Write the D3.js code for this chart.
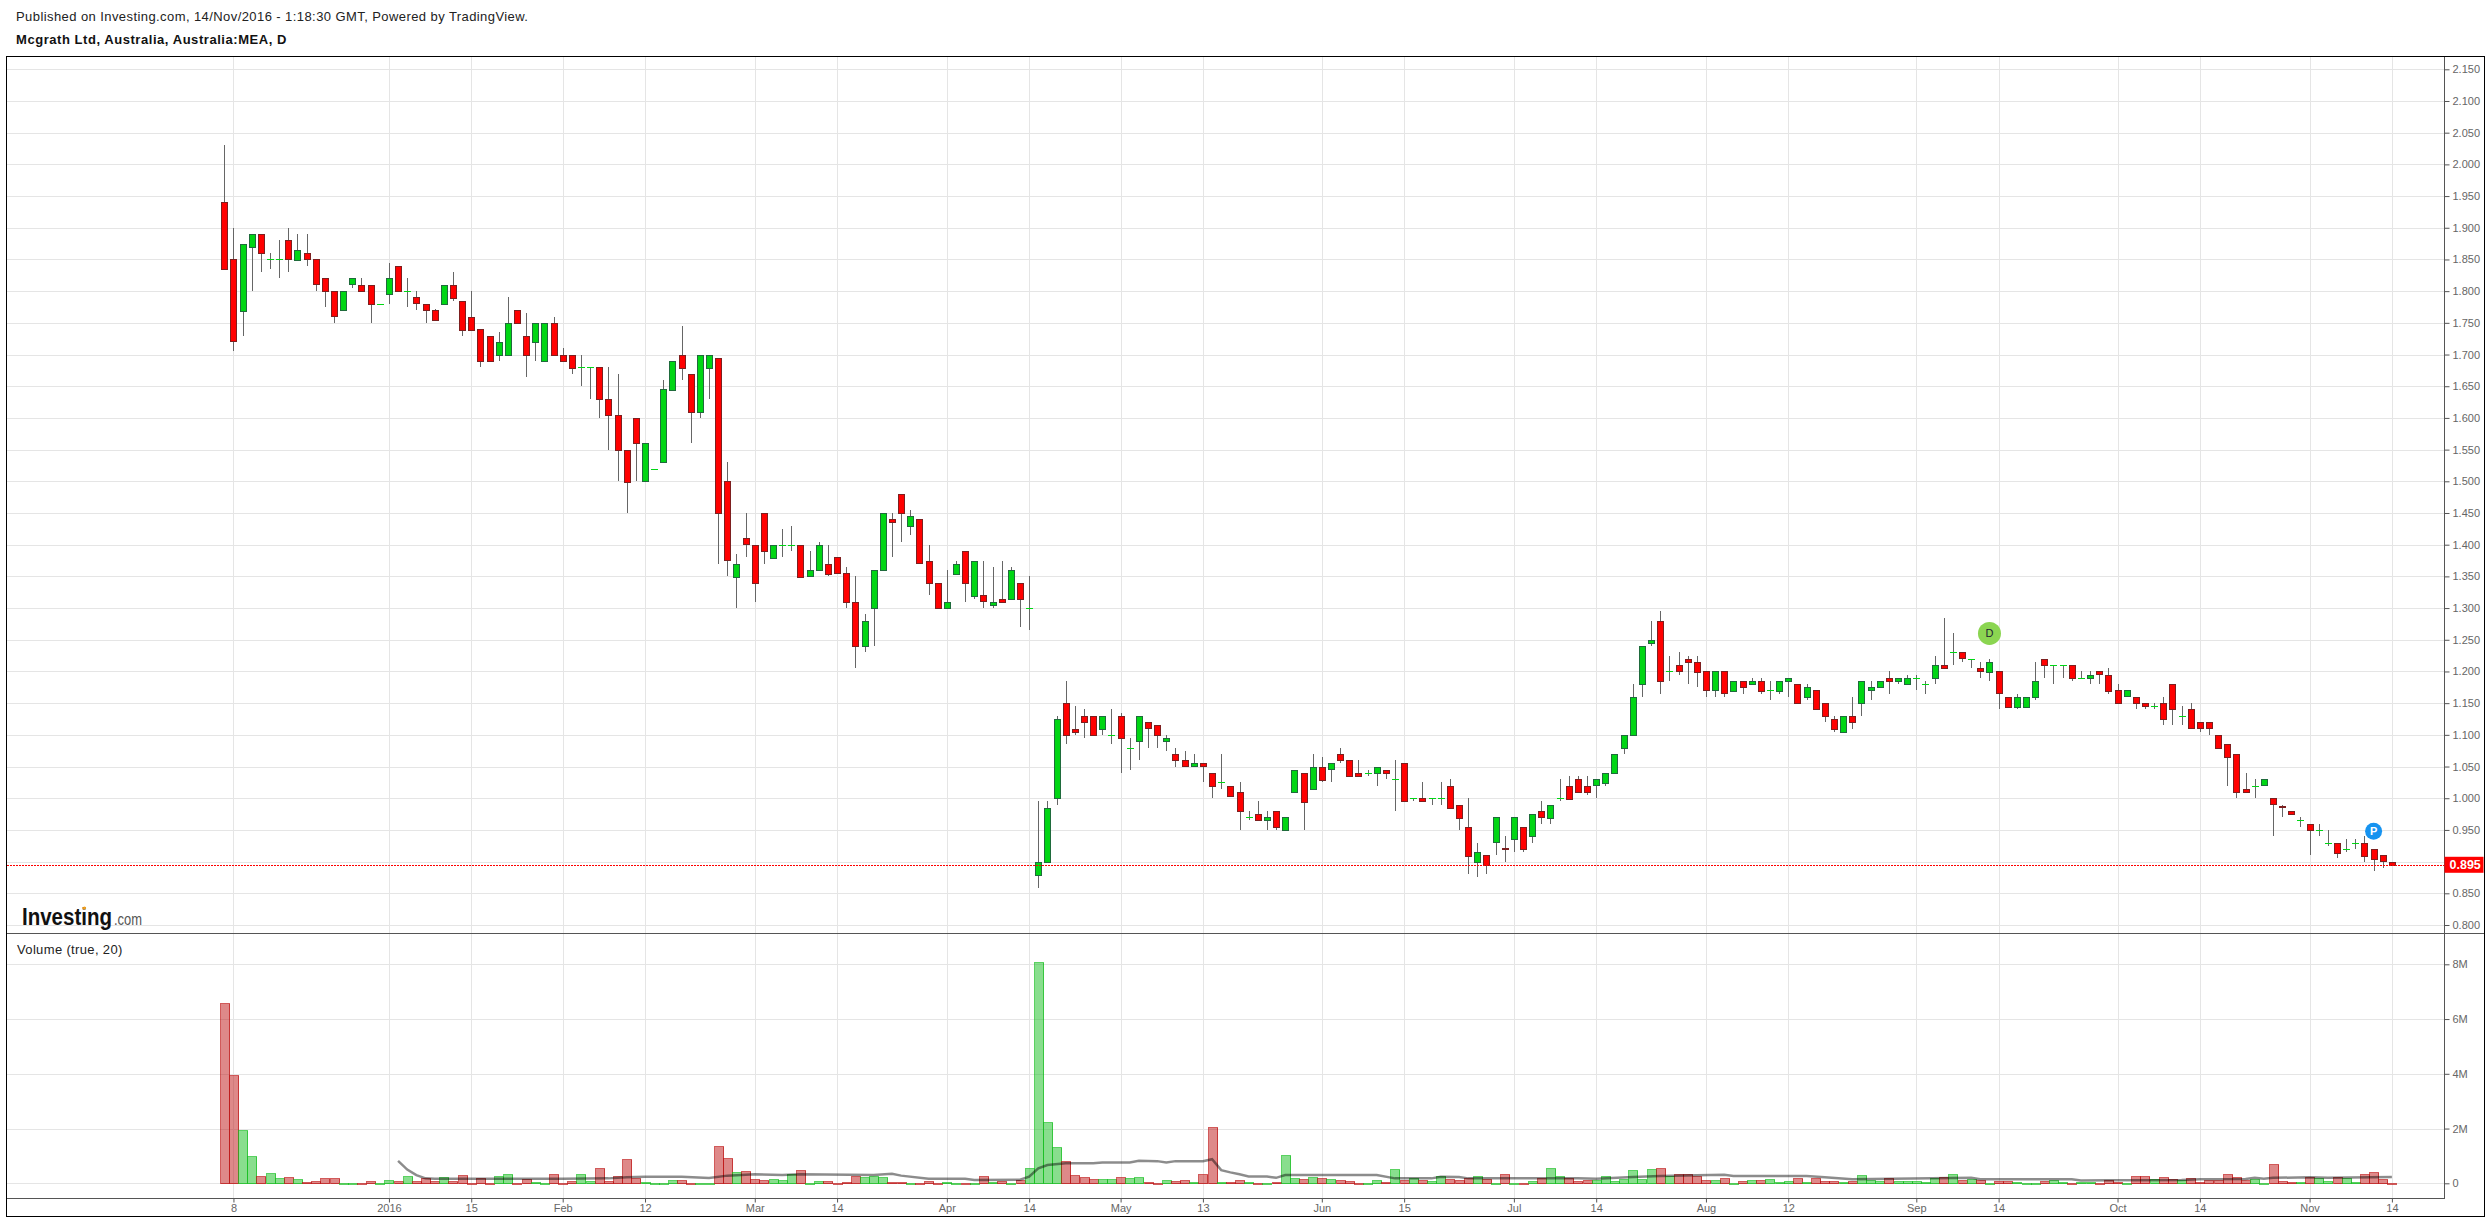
<!DOCTYPE html>
<html>
<head>
<meta charset="utf-8">
<title>Mcgrath Ltd</title>
<script src="https://cdn.jsdelivr.net/npm/d3@7"></script>
<style>
  html, body { margin: 0; padding: 0; background: #fff; }
  svg { display: block; font-family: "Liberation Sans", Arial, sans-serif; }
  .tick text { fill: #666; font-size: 11px; }
  .tick line, .domain { stroke: #555; }
</style>
</head>
<body>
<div id="chart"></div>
<script>
// daily candles, oldest first
const opens = [
  1.94,1.85,1.77,1.87,1.89,1.85,1.85,1.88,1.85,1.86,
  1.85,1.82,1.80,1.77,1.81,1.81,1.81,1.78,1.795,1.84,
  1.80,1.79,1.78,1.77,1.78,1.81,1.785,1.76,1.74,1.73,
  1.70,1.70,1.77,1.73,1.72,1.69,1.75,1.70,1.70,1.68,
  1.68,1.68,1.63,1.605,1.55,1.60,1.50,1.52,1.53,1.645,
  1.70,1.67,1.61,1.68,1.695,1.50,1.35,1.41,1.40,1.45,
  1.38,1.40,1.40,1.40,1.35,1.36,1.37,1.38,1.355,1.31,
  1.24,1.30,1.36,1.44,1.48,1.43,1.44,1.375,1.34,1.30,
  1.355,1.39,1.32,1.32,1.305,1.315,1.315,1.34,1.30,0.88,
  0.90,1.00,1.15,1.11,1.13,1.13,1.11,1.10,1.13,1.08,
  1.09,1.12,1.115,1.09,1.07,1.06,1.05,1.055,1.04,1.025,
  1.02,1.01,0.97,0.975,0.965,0.98,0.95,1.01,1.04,1.015,
  1.05,1.045,1.07,1.06,1.04,1.04,1.04,1.045,1.03,1.055,
  1.00,1.00,1.00,1.00,1.02,0.99,0.955,0.90,0.91,0.93,
  0.922,0.935,0.955,0.94,0.98,0.97,1.00,1.02,1.03,1.02,
  1.02,1.025,1.04,1.08,1.10,1.18,1.245,1.28,1.20,1.21,
  1.22,1.215,1.20,1.17,1.20,1.17,1.185,1.18,1.185,1.17,
  1.17,1.185,1.18,1.16,1.17,1.15,1.125,1.105,1.13,1.15,
  1.17,1.175,1.19,1.185,1.18,1.19,1.18,1.19,1.21,1.23,
  1.23,1.22,1.205,1.20,1.20,1.16,1.145,1.145,1.16,1.22,
  1.21,1.21,1.21,1.19,1.19,1.20,1.195,1.17,1.16,1.16,
  1.15,1.145,1.15,1.18,1.13,1.14,1.12,1.12,1.10,1.085,
  1.07,1.015,1.02,1.02,1.00,0.987,0.98,0.965,0.96,0.95,
  0.93,0.93,0.92,0.93,0.93,0.92,0.91,0.90
];
const highs = [
  2.03,1.90,1.875,1.89,1.89,1.86,1.88,1.90,1.89,1.89,
  1.85,1.82,1.80,1.80,1.82,1.82,1.81,1.78,1.845,1.84,
  1.82,1.80,1.78,1.772,1.81,1.83,1.785,1.80,1.74,1.73,
  1.735,1.79,1.77,1.765,1.75,1.75,1.76,1.71,1.70,1.70,
  1.68,1.68,1.68,1.67,1.55,1.60,1.56,1.52,1.66,1.69,
  1.745,1.67,1.70,1.70,1.695,1.53,1.385,1.45,1.40,1.45,
  1.40,1.425,1.43,1.40,1.39,1.405,1.40,1.38,1.365,1.35,
  1.29,1.36,1.45,1.45,1.48,1.455,1.44,1.40,1.34,1.36,
  1.375,1.39,1.375,1.375,1.365,1.375,1.365,1.34,1.35,0.995,
  0.995,1.13,1.185,1.145,1.14,1.13,1.13,1.14,1.135,1.095,
  1.13,1.12,1.115,1.10,1.08,1.075,1.07,1.055,1.04,1.07,
  1.02,1.025,0.98,0.995,0.98,0.98,0.97,1.045,1.04,1.07,
  1.065,1.055,1.08,1.06,1.06,1.045,1.05,1.045,1.06,1.055,
  1.00,1.025,1.00,1.025,1.03,0.99,1.00,0.93,0.91,0.97,
  0.94,0.97,0.955,0.975,0.995,0.99,1.03,1.035,1.035,1.035,
  1.03,1.04,1.07,1.10,1.18,1.24,1.28,1.295,1.225,1.23,
  1.225,1.225,1.20,1.20,1.20,1.185,1.185,1.19,1.19,1.185,
  1.185,1.19,1.18,1.18,1.17,1.15,1.13,1.13,1.16,1.185,
  1.185,1.185,1.20,1.19,1.195,1.195,1.185,1.225,1.285,1.26,
  1.23,1.22,1.215,1.22,1.20,1.16,1.165,1.16,1.215,1.22,
  1.21,1.21,1.21,1.20,1.20,1.20,1.205,1.18,1.17,1.16,
  1.15,1.15,1.16,1.18,1.145,1.15,1.12,1.12,1.10,1.085,
  1.07,1.04,1.03,1.03,1.00,0.99,0.98,0.97,0.96,0.96,
  0.95,0.93,0.935,0.935,0.94,0.92,0.91,0.90
];
const lows = [
  1.835,1.705,1.73,1.80,1.83,1.835,1.82,1.83,1.85,1.84,
  1.80,1.775,1.75,1.77,1.805,1.80,1.75,1.78,1.78,1.80,
  1.775,1.77,1.75,1.755,1.78,1.785,1.73,1.74,1.68,1.69,
  1.69,1.70,1.75,1.665,1.69,1.69,1.70,1.69,1.67,1.65,
  1.63,1.60,1.55,1.50,1.45,1.50,1.50,1.52,1.53,1.645,
  1.66,1.56,1.60,1.63,1.37,1.35,1.30,1.38,1.31,1.37,
  1.38,1.38,1.39,1.35,1.35,1.36,1.35,1.355,1.30,1.205,
  1.23,1.24,1.36,1.38,1.405,1.415,1.37,1.32,1.30,1.30,
  1.355,1.31,1.315,1.30,1.30,1.31,1.315,1.27,1.265,0.858,
  0.90,0.99,1.085,1.10,1.095,1.10,1.10,1.085,1.04,1.045,
  1.06,1.08,1.08,1.075,1.05,1.05,1.05,1.025,1.00,1.015,
  1.005,0.95,0.965,0.965,0.95,0.95,0.95,1.01,0.95,1.015,
  1.025,1.025,1.055,1.035,1.035,1.035,1.02,1.03,0.98,0.995,
  0.995,0.995,0.99,0.99,0.985,0.95,0.88,0.875,0.88,0.91,
  0.90,0.915,0.915,0.93,0.96,0.96,0.995,1.00,1.01,1.005,
  1.00,1.02,1.04,1.07,1.10,1.16,1.24,1.165,1.185,1.195,
  1.18,1.175,1.16,1.16,1.16,1.17,1.165,1.18,1.165,1.155,
  1.165,1.16,1.15,1.155,1.14,1.12,1.105,1.105,1.11,1.13,
  1.155,1.175,1.165,1.18,1.18,1.17,1.165,1.18,1.205,1.21,
  1.215,1.205,1.19,1.185,1.14,1.145,1.14,1.145,1.155,1.19,
  1.18,1.19,1.185,1.19,1.18,1.18,1.165,1.15,1.16,1.14,
  1.14,1.14,1.115,1.115,1.115,1.11,1.105,1.10,1.08,1.02,
  1.00,1.01,1.00,1.02,0.94,0.97,0.975,0.955,0.91,0.94,
  0.925,0.905,0.915,0.92,0.90,0.885,0.89,0.895
];
const closes = [
  1.835,1.72,1.875,1.89,1.86,1.85,1.85,1.85,1.865,1.85,
  1.81,1.80,1.76,1.80,1.82,1.80,1.78,1.78,1.82,1.80,
  1.80,1.78,1.77,1.755,1.81,1.79,1.74,1.74,1.69,1.69,
  1.72,1.75,1.75,1.70,1.75,1.75,1.70,1.69,1.68,1.68,
  1.68,1.63,1.605,1.55,1.50,1.56,1.56,1.52,1.645,1.69,
  1.68,1.61,1.70,1.70,1.45,1.375,1.37,1.40,1.34,1.39,
  1.40,1.40,1.40,1.35,1.36,1.40,1.355,1.355,1.31,1.24,
  1.28,1.36,1.45,1.435,1.45,1.445,1.37,1.34,1.30,1.31,
  1.37,1.34,1.375,1.31,1.31,1.31,1.36,1.315,1.30,0.90,
  0.985,1.125,1.10,1.105,1.12,1.10,1.13,1.10,1.095,1.08,
  1.13,1.11,1.10,1.095,1.06,1.05,1.055,1.05,1.02,1.025,
  1.005,0.98,0.97,0.965,0.97,0.955,0.97,1.045,0.995,1.05,
  1.03,1.055,1.06,1.035,1.035,1.04,1.05,1.04,1.03,0.995,
  1.00,0.995,1.00,1.00,0.985,0.97,0.91,0.915,0.895,0.97,
  0.92,0.97,0.92,0.975,0.97,0.99,1.00,1.00,1.01,1.01,
  1.03,1.04,1.07,1.10,1.16,1.24,1.25,1.185,1.20,1.20,
  1.215,1.20,1.17,1.20,1.165,1.185,1.175,1.185,1.17,1.17,
  1.185,1.19,1.15,1.175,1.14,1.13,1.11,1.13,1.12,1.185,
  1.175,1.185,1.185,1.19,1.19,1.19,1.18,1.21,1.205,1.23,
  1.22,1.22,1.20,1.215,1.165,1.145,1.16,1.16,1.185,1.21,
  1.21,1.21,1.19,1.19,1.195,1.195,1.17,1.15,1.17,1.15,
  1.145,1.145,1.125,1.14,1.13,1.11,1.11,1.11,1.08,1.065,
  1.01,1.01,1.02,1.03,0.99,0.985,0.975,0.965,0.95,0.95,
  0.93,0.915,0.92,0.93,0.91,0.905,0.90,0.895
];
// volume in millions of shares
const volumes = [
  6.58,3.94,1.94,.98,.27,.36,.18,.23,.15,.05,
  .07,.18,.18,.02,.01,.02,.07,.01,.11,.07,
  .27,.07,.18,.09,.23,.07,.29,.02,.18,.02,
  .27,.33,.02,.16,.05,.02,.33,.02,.08,.33,
  .07,.55,.08,.27,.87,.18,.05,.02,.02,.12,
  .12,.02,.02,.02,1.35,.91,.40,.44,.15,.11,
  .15,.11,.34,.47,.01,.07,.07,.01,.04,.25,
  .22,.25,.22,.04,.04,.01,.01,.07,.01,.03,
  .02,.01,.01,.25,.06,.07,.01,.11,.55,8.07,
  2.25,1.31,.80,.29,.22,.15,.15,.15,.22,.18,
  .22,.04,.01,.11,.07,.11,.04,.33,2.07,.04,
  .04,.11,.04,.01,.01,.04,1.05,.18,.15,.22,
  .18,.15,.11,.07,.01,.01,.11,.04,.51,.11,
  .18,.11,.07,.25,.15,.11,.18,.25,.15,.01,
  .33,.01,.01,.07,.18,.55,.25,.18,.07,.11,
  .11,.27,.09,.15,.48,.17,.52,.56,.27,.33,
  .33,.27,.11,.11,.18,.01,.07,.11,.11,.15,
  .04,.07,.18,.04,.18,.07,.07,.04,.07,.29,
  .11,.07,.18,.07,.07,.07,.04,.18,.23,.33,
  .11,.15,.11,.01,.07,.07,.04,.01,.01,.07,
  .11,.04,.01,.04,.04,.01,.11,.04,.01,.26,
  .26,.15,.22,.15,.11,.18,.04,.11,.11,.33,
  .22,.11,.15,.01,.70,.07,.04,.04,.22,.18,
  .07,.22,.18,.04,.33,.40,.15,.01
];
// volume average line
const avgBars = [19,20,21,22,23,37,42,44,46,50,53,55,58,61,63,71,73,74,77,81,82,87,88,89,90,92,95,96,99,100,102,103,104,107,108,109,110,111,112,114,115,116,126,128,132,133,135,136,148,150,154,157,161,164,165,173,175,178,191,192,202,203,206,214,216,221,222,223,224,228,230,237];
const avgValues = [.82,.50,.30,.18,.17,.17,.18,.22,.24,.24,.19,.28,.33,.30,.33,.30,.35,.28,.17,.17,.12,.13,.24,.55,.67,.73,.73,.76,.76,.82,.81,.76,.81,.81,.88,.48,.40,.33,.25,.25,.20,.30,.30,.18,.18,.24,.23,.18,.18,.17,.23,.27,.29,.31,.27,.27,.22,.15,.20,.15,.15,.10,.11,.12,.15,.16,.20,.17,.20,.22,.20,.23];

const priceTicks = d3.range(0, 28).map(i => +(0.8 + i * 0.05).toFixed(2));
const volumeTicks = [0, 2, 4, 6, 8];
const timeTickBars = [1,18,27,37,46,58,67,79,88,98,107,120,129,141,150,162,171,185,194,207,216,228,237];
const timeTickLabels = ["8","2016","15","Feb","12","Mar","14","Apr","14","May","13","Jun","15","Jul","14","Aug","12","Sep","14","Oct","14","Nov","14"];

const lastPrice = 0.895;
const markerBars = [193, 235];
const markerPrices = [1.26, 0.948];
const markerLabels = ["D", "P"];

const width = 2487, height = 1222;
const frame = { left: 6.5, right: 2484.5, top: 56.5, bottom: 1216.5 };
const axisX = 2444.5, paneSplit = 933.5, volBottom = 1198.5;

const svg = d3.select("#chart").append("svg")
  .attr("width", width)
  .attr("height", height);

const bars = d3.range(closes.length);
const x = d3.scaleLinear().domain([0, 237]).range([224.3, 2391.9]);
const yPrice = d3.scaleLinear().domain([0.8, 2.15]).range([925, 69.3]);
const yVol = d3.scaleLinear().domain([0, 8]).range([1183.3, 964.3]);
const snap = v => Math.round(v) + 0.5;

// grid lines
const grid = svg.append("g").attr("stroke", "#e5e5e5").attr("shape-rendering", "crispEdges");
grid.selectAll(".vgrid").data(timeTickBars).join("line")
  .attr("x1", d => snap(x(d))).attr("x2", d => snap(x(d)))
  .attr("y1", frame.top).attr("y2", volBottom);
grid.selectAll(".pgrid").data(priceTicks).join("line")
  .attr("x1", frame.left).attr("x2", axisX)
  .attr("y1", d => snap(yPrice(d))).attr("y2", d => snap(yPrice(d)));
grid.selectAll(".vgridh").data(volumeTicks).join("line")
  .attr("x1", frame.left).attr("x2", axisX)
  .attr("y1", d => snap(yVol(d))).attr("y2", d => snap(yVol(d)));

// watermark
svg.append("text").attr("x", 22).attr("y", 925).text("Investing")
  .attr("font-family", "Liberation Sans Narrow, Liberation Sans")
  .attr("font-weight", "bold").attr("font-size", 24).attr("fill", "#111")
  .attr("textLength", 90).attr("lengthAdjust", "spacingAndGlyphs");
svg.append("text").attr("x", 114).attr("y", 925).text(".com")
  .attr("font-family", "Liberation Sans Narrow, Liberation Sans")
  .attr("font-size", 16).attr("fill", "#555")
  .attr("textLength", 28).attr("lengthAdjust", "spacingAndGlyphs");
svg.append("circle").attr("cx", 84.5).attr("cy", 908).attr("r", 1.6).attr("fill", "#f7a11a");

// volume bars
const isUp = i => closes[i] >= opens[i];
svg.append("g").selectAll("rect").data(bars).join("rect")
  .attr("shape-rendering", "crispEdges")
  .attr("x", i => Math.round(x(i) - 4.5) + 0.5)
  .attr("width", 9)
  .attr("y", i => snap(yVol(volumes[i])))
  .attr("height", i => Math.max(snap(yVol(0)) - snap(yVol(volumes[i])), 0.5))
  .attr("fill", i => isUp(i) ? "rgba(20,190,30,.5)" : "rgba(190,20,20,.5)")
  .attr("stroke", i => isUp(i) ? "rgba(20,190,30,.7)" : "rgba(190,20,20,.7)");

// volume average
const avgLine = d3.line()
  .x(i => x(avgBars[i]))
  .y(i => yVol(avgValues[i]));
svg.append("path")
  .attr("d", avgLine(d3.range(avgBars.length)))
  .attr("fill", "none").attr("stroke", "#000").attr("stroke-opacity", 0.45).attr("stroke-width", 2.5);

// candles
const candles = svg.append("g").attr("shape-rendering", "crispEdges");
candles.selectAll(".wick").data(bars).join("line")
  .attr("x1", i => snap(x(i))).attr("x2", i => snap(x(i)))
  .attr("y1", i => yPrice(highs[i])).attr("y2", i => yPrice(lows[i]))
  .attr("stroke", "#666");
// flat candles are only a short green dash
candles.selectAll(".flat").data(bars.filter(i => closes[i] === opens[i])).join("rect")
  .attr("x", i => snap(x(i)) - 3.5).attr("width", 7)
  .attr("y", i => Math.round(yPrice(closes[i]))).attr("height", 1)
  .attr("fill", "#00d614");
candles.selectAll(".body").data(bars.filter(i => closes[i] !== opens[i])).join("rect")
  .attr("x", i => snap(x(i)) - 3).attr("width", 6)
  .attr("y", i => snap(yPrice(Math.max(opens[i], closes[i]))))
  .attr("height", i => Math.max(Math.abs(yPrice(opens[i]) - yPrice(closes[i])), 1))
  .attr("fill", i => isUp(i) ? "#00d614" : "#ff0000")
  .attr("stroke", i => isUp(i) ? "#1f6b3c" : "#7d1f1f");

// last price line and label
svg.append("line")
  .attr("x1", frame.left).attr("x2", axisX)
  .attr("y1", snap(yPrice(lastPrice))).attr("y2", snap(yPrice(lastPrice)))
  .attr("stroke", "#f00").attr("stroke-dasharray", "2,1").attr("shape-rendering", "crispEdges");

// event markers
const markers = svg.append("g").selectAll("g").data(markerBars).join("g")
  .attr("transform", (d, i) => `translate(${x(d)},${yPrice(markerPrices[i])})`);
markers.append("circle")
  .attr("r", (d, i) => i === 0 ? 11.5 : 8.5)
  .attr("fill", (d, i) => i === 0 ? "#8bd551" : "#1693f0");
markers.append("text")
  .attr("text-anchor", "middle").attr("y", 4)
  .attr("font-size", 11).attr("font-weight", (d, i) => i === 0 ? "normal" : "bold")
  .attr("fill", (d, i) => i === 0 ? "#223" : "#fff")
  .text((d, i) => markerLabels[i]);

// axes
svg.append("g")
  .attr("transform", `translate(${axisX},0)`)
  .call(d3.axisRight(yPrice).tickValues(priceTicks).tickFormat(d3.format(".3f")).tickSize(5).tickPadding(3))
  .call(g => g.select(".domain").remove());
svg.append("g")
  .attr("transform", `translate(${axisX},0)`)
  .call(d3.axisRight(yVol).tickValues(volumeTicks).tickFormat(d => d ? d + "M" : "0").tickSize(5).tickPadding(3))
  .call(g => g.select(".domain").remove());
svg.append("g")
  .attr("transform", `translate(0,${volBottom})`)
  .call(d3.axisBottom(x).tickValues(timeTickBars).tickFormat((d, i) => timeTickLabels[i]).tickSize(4).tickPadding(2))
  .call(g => g.select(".domain").remove());

// panes and outer frame
const lines = svg.append("g").attr("shape-rendering", "crispEdges").attr("stroke", "#555");
lines.append("line").attr("x1", frame.left).attr("x2", frame.right).attr("y1", paneSplit).attr("y2", paneSplit);
lines.append("line").attr("x1", frame.left).attr("x2", axisX).attr("y1", volBottom).attr("y2", volBottom);
lines.append("line").attr("x1", axisX).attr("x2", axisX).attr("y1", frame.top).attr("y2", volBottom);
svg.append("rect")
  .attr("x", frame.left).attr("y", frame.top)
  .attr("width", frame.right - frame.left).attr("height", frame.bottom - frame.top)
  .attr("fill", "none").attr("stroke", "#000").attr("shape-rendering", "crispEdges");

// last price tag goes over the axis
svg.append("rect")
  .attr("x", axisX).attr("y", yPrice(lastPrice) - 8).attr("width", 39).attr("height", 16)
  .attr("fill", "#f00");
svg.append("text")
  .attr("x", axisX + 5).attr("y", yPrice(lastPrice) + 4.5)
  .attr("font-size", 12.5).attr("font-weight", "bold").attr("fill", "#fff")
  .text(d3.format(".3f")(lastPrice));

// titles
svg.append("text").attr("x", 16).attr("y", 21)
  .attr("font-size", 13).attr("letter-spacing", 0.42).attr("fill", "#222")
  .text("Published on Investing.com, 14/Nov/2016 - 1:18:30 GMT, Powered by TradingView.");
svg.append("text").attr("x", 16).attr("y", 44)
  .attr("font-size", 13).attr("font-weight", "bold").attr("letter-spacing", 0.55).attr("fill", "#111")
  .text("Mcgrath Ltd, Australia, Australia:MEA, D");
svg.append("text").attr("x", 17).attr("y", 954)
  .attr("font-size", 13).attr("letter-spacing", 0.35).attr("fill", "#222")
  .text("Volume (true, 20)");
</script>
</body>
</html>
